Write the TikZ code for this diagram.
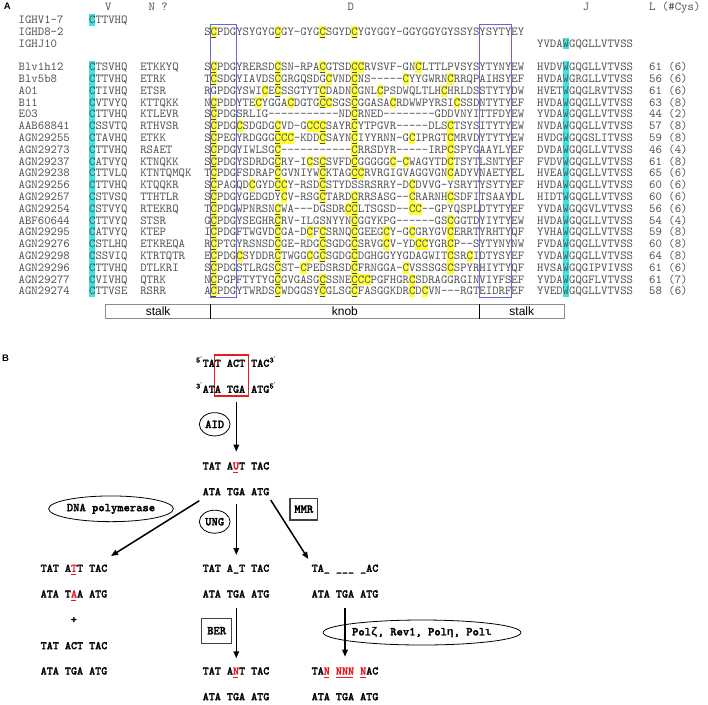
\documentclass[tikz,border=0pt]{standalone}
\usepackage{fontspec}
\setmainfont{Liberation Sans}
\newfontfamily\mon{lmmono10-regular.otf}[Ligatures=TeXOff]
\newfontfamily\monb{lmmonolt10-bold.otf}[Ligatures=TeXOff,FakeBold=1.8]
\newfontfamily\lmb{Liberation Mono}[Ligatures=TeXOff]
\newfontfamily\djv{DejaVu Sans}
\usetikzlibrary{arrows.meta,shapes.geometric}
\definecolor{seqgray}{RGB}{80,80,80}
\definecolor{cyanhl}{RGB}{60,228,228}
\definecolor{yelhl}{RGB}{255,255,51}
\definecolor{boxblue}{RGB}{100,100,232}
\definecolor{redx}{RGB}{228,28,36}
\tikzset{
  seq/.style={font={\mon\fontsize{12.19}{14}\selectfont}, text=seqgray, inner sep=0pt, anchor=base west},
  ulst/.style={line width=0.6pt, draw=black!70},
  regbox/.style={draw=boxblue, line width=1pt},
  barlbl/.style={font={\fontsize{12}{14}\selectfont}, inner sep=0pt},
  panel/.style={font={\bfseries\fontsize{9.5}{11}\selectfont}, inner sep=0pt},
  dna/.style={font={\monb\fontsize{11.54}{13}\selectfont}, inner sep=0pt, anchor=base west},
  prim/.style={font={\monb\fontsize{8}{9}\selectfont}, inner sep=0pt},
  enz/.style={ellipse, draw, line width=0.8pt, inner sep=0pt, font={\monb\fontsize{12}{13}\selectfont}},
  enzbox/.style={rectangle, draw=black!75, line width=1.2pt, inner sep=0pt, font={\monb\fontsize{12}{13}\selectfont}},
  flow/.style={line width=1.5pt, -{Triangle[length=7pt,width=5.5pt]}},
  redul/.style={draw=redx, line width=1.1pt},
}
\newcommand{\seqrow}[9]{%
  \pgfmathsetmacro\ry{19.8+11.8*#1}%
  \pgfmathsetmacro\rb{\ry+3.7}%
  \foreach \i in {#8}{\fill[yelhl] ({204.1+6.4*\i},{\ry-5.9}) rectangle ++(6.4,11.8);}
  \foreach \i in {#9}{\draw[ulst] ({204.1+6.4*\i+0.7},{\ry+5.2}) -- ++(5.0,0);}
  \node[seq] (nm#1) at (18.5,\rb) {#2};
  \node[seq] (v#1) at (88.9,\rb) {#3};
  \node[seq] (nn#1) at (140.1,\rb) {#4};
  \node[seq] (d#1) at (204.1,\rb) {#5};
  \node[seq] (j#1) at (536.9,\rb) {#6};
  \node[seq] (l#1) at (649,\rb) {#7};
}
\newcommand{\rul}[3]{\draw[redul] ({#1+6.06*#3+0.5},{#2+3}) -- ++(5.06,0);}
\newcommand{\grk}[1]{{\lmb\bfseries\fontsize{11.2}{13}\selectfont #1}}
\begin{document}
\begin{tikzpicture}[x=1pt,y=-1pt]
\useasboundingbox (0,0) rectangle (708,704);
\fill[white] (0,0) rectangle (708,704);
% ---------- panel A ----------
\node[panel] (labA) at (7.2,6.7) {A};
\node[seq] (hV) at (104.9,10.5) {V};
\node[seq] (hN) at (148.4,10.5) {N ?};
\node[seq] (hD) at (347.5,10.5) {D};
\node[seq] (hJ) at (582.7,10.5) {J};
\node[seq] (hL) at (649,10.5) {L (\#Cys)};
% cyan strips
\fill[cyanhl] (88.9,13.9) rectangle ++(6.4,11.8);
\fill[cyanhl] (88.9,61.1) rectangle (95.3,297.1);
\fill[cyanhl] (562.5,37.5) rectangle ++(6.4,11.8);
\fill[cyanhl] (562.5,61.1) rectangle (568.9,297.1);
% germline rows
\node[seq] (g0) at (18.5,23.5) {IGHV1-7};
\node[seq] (g0v) at (88.9,23.5) {CTTVHQ};
\foreach \i in {1,11,18,23}{\fill[yelhl] ({204.1+6.4*\i},25.7) rectangle ++(6.4,11.8);}
\foreach \i in {1,11,18,23}{\draw[ulst] ({204.1+6.4*\i+0.7},36.8) -- ++(5.0,0);}
\node[seq] (g1) at (18.5,35.3) {IGHD8-2};
\node[seq] (g1d) at (204.1,35.3) {SCPDGYSYGYGCGY-GYGCSGYDCYGYGGY-GGYGGYGYSSYSYSYTYEY};
\node[seq] (g2) at (18.5,47.1) {IGHJ10};
\node[seq] (g2j) at (536.9,47.1) {YVDAWGQGLLVTVSS};
% data rows
\seqrow{4}{Blv1h12}{CTSVHQ}{ETKKYQ}{SCPDGYRERSDCSN-RPACGTSDCCRVSVF-GNCLTTLPVSYSYTYNYEW}{HVDVWGQGLLVTVSS}{61 (6)}{1,11,18,23,24,33}{1,11,18,23}
\seqrow{5}{Blv5b8}{CTTVHQ}{ETRK}{TCSDGYIAVDSCGRGQSDGCVNDCNS-----CYYGWRNCRRQPAIHSYEF}{HVDAWGRGLLVTVSS}{56 (6)}{1,11,19,23,31,38}{1,11,23}
\seqrow{6}{A01}{CTIVHQ}{ETSR}{RGPDGYSWICECSSGTYTCDADNCGNLCPSDWQLTLHCHRLDSSTYTYDW}{HVETWGQGLRVTVSS}{61 (6)}{9,11,18,23,27,37}{11,18,23}
\seqrow{7}{B11}{CVTVYQ}{KTTQKK}{NCPDDYTECYGGACDGTGCCSGSCGGASACRDWWPYRSICSSDNTYTYEF}{HVDAWGQGLLVTVSS}{63 (8)}{1,8,13,18,19,23,29,39}{1,18,23}
\seqrow{8}{E03}{CTTVHQ}{KTLEVR}{SCPDGSRLIG-----------NDCRNED--------GDDVNYITTFDYEW}{YVDAWGQGLLVTVSS}{44 (2)}{1,23}{1,23}
\seqrow{9}{AAB68841}{CSSVTQ}{RTHVSR}{SCPDGCSDGDGCVD-GCCCSAYRCYTPGVR-----DLSCTSYSITYTYEW}{NVDAWGQGLLVTVSS}{57 (8)}{1,5,11,16,17,18,23,38}{1,11,18,23}
\seqrow{10}{AGN29255}{CTAVHQ}{ETKK}{SCPEGYRDGGGCCC-KDDCSAYNCIYYRNN-GCIPRGTCMRVDYTYTYEW}{HVDGWGQGSLITVSS}{59 (8)}{1,11,12,13,18,23,32,38}{1,11,18,23}
\seqrow{11}{AGN29273}{CTTVHQ}{RSAET}{SCPDGYIWLSGC-----------CRRSDYR-----IRPCSPYGAAYLYEF}{DVDAWGQGLLVTVSS}{46 (4)}{1,11,23,38}{1,11,23}
\seqrow{12}{AGN29237}{CATVYQ}{KTNQKK}{SCPDGYSDRDGCRY-ICSCSVFDCGGGGGC-CWAGYTDCTSYTLSNTYEF}{FVDVWGQGLLVTVSS}{61 (8)}{1,11,16,18,23,29,31,38}{1,11,18,23}
\seqrow{13}{AGN29238}{CTTVLQ}{KTNTQMQK}{TCPDGFSDRAPCGVNIYWCKTAGCCRVRGIGVAGGVGNCADYVNAETYEL}{HVEAWGQGLLVTVSS}{65 (6)}{1,11,18,23,24,38}{1,11,18,23}
\seqrow{14}{AGN29256}{CTTVHQ}{KTQQKR}{SCPAGQDCGYDCCY-RSDCSTYDSSRSRRY-DCDVVG-YSRYTYSYTYEF}{HVDAWGQGLLVTVSS}{60 (6)}{1,7,11,12,18,32}{1,11,18}
\seqrow{15}{AGN29257}{CSTVSQ}{TTHTLR}{SCPDGYGEDGDYCV-RSGCTARDCRRSASG--CRARNHCSDFITSAAYDL}{HIDTWGQGLLVTVSS}{60 (6)}{1,12,18,23,32,38}{1,18,23}
\seqrow{16}{AGN29254}{CSTVYQ}{RTEKRQ}{TCPDGWPNRSNCWA---DGSDRCCLTSGSD--CC--GPYQSPLDTYTYEF}{YVDAWGQGVLVTVSS}{56 (6)}{1,11,22,23,32,33}{1,11,23}
\seqrow{17}{ABF60644}{CTTVYQ}{STSR}{GCPDGYSEGHRCRV-ILGSNYYNCGGYKPG------GSCGGTDYIYTYEW}{HVDAWGQGLLVTVSS}{54 (4)}{1,11,23,38}{1,11,23}
\seqrow{18}{AGN29295}{CATVYQ}{KTEP}{ICPDGFTWGVDCGA-DCFCSRNQCGEEGCY-GCGRYGVCERRTYRHTYQF}{YVHAWGQGLLVTVSS}{59 (8)}{1,11,16,18,23,28,32,38}{1,11,18,23}
\seqrow{19}{AGN29276}{CSTLHQ}{ETKREQA}{RCPTGYRSNSDCGE-RDGCSGDGCSRVGCV-YDCCYGRCP--SYTYNYNW}{FVDAWGQGLLVTVSS}{60 (8)}{1,11,18,23,28,33,34,38}{1,11,18,23}
\seqrow{20}{AGN29298}{CSSVIQ}{KTRTQTR}{ECPDGCSYDDRCTWGGCGCSGDGCDGHGGYYGDAGWITCSRCIDTYSYEF}{YVDAWGQGLLVTVSS}{64 (8)}{1,5,11,16,18,23,38,41}{1,11,18,23}
\seqrow{21}{AGN29296}{CTTVHQ}{DTLKRI}{SCPDGSTLRGSCST-CPEDSRSDCFRNGGA-CVSSSGSCSPYRHIYTYQF}{HVSAWGQGIPVIVSS}{61 (6)}{1,11,15,23,31,38}{1,11,23}
\seqrow{22}{AGN29277}{CVIVHQ}{QTRK}{NCPGPFTYTYGCGVGASGCSSNECCCPGFHGRCSDRAGGRGINVIYFSEF}{YVDAWGQGFLVTVSS}{61 (7)}{1,11,18,23,24,25,32}{1,11,18,23}
\seqrow{23}{AGN29274}{CTTVSE}{RSRR}{ACPDGYTWRDSCWDGGSYCGLSGCFASGGKDRCDCVN---RGTEIDRFEF}{YVEDWGQGLLVTVSS}{58 (6)}{1,11,18,23,32,34}{1,11,18,23}
% region boxes
\draw[regbox] (210.5,24.5) rectangle (236.5,297.5);
\draw[regbox] (479.5,24.5) rectangle (511.5,297.5);
% stalk / knob bar
\draw[draw=black!45, line width=1pt] (105.7,304.3) rectangle (564.3,318.5);
\draw[line width=0.9pt] (210.5,304.3) -- (210.5,318.5);
\draw[line width=0.9pt] (479.5,304.3) -- (479.5,318.5);
\node[barlbl] (st1) at (158.1,311.6) {stalk};
\node[barlbl] (kn) at (344.9,311.6) {knob};
\node[barlbl] (st2) at (521.8,311.6) {stalk};
% ---------- panel B ----------
\node[panel] (labB) at (5.5,358.3) {B};
\draw[draw=redx, line width=1.1pt] (214.3,355) rectangle (248.3,396);
\node[dna] (s1a) at (202.5,366.8) {TAT ACT TAC};
\node[dna] (s1b) at (202.5,392.8) {ATA TGA ATG};
\node[prim, anchor=base east] (p1) at (202.3,362.6) {5{\djv ′}};
\node[prim, anchor=base west] (p2) at (269.3,362.6) {3{\djv ′}};
\node[prim, anchor=base east] (p3) at (202.3,388.6) {3{\djv ′}};
\node[prim, anchor=base west] (p4) at (269.3,388.6) {5{\djv ′}};
\node[enz, minimum width=30.7pt, minimum height=23.3pt] (aid) at (214.7,424.3) {AID};
\node[dna] (s2a) at (202.5,469.5) {TAT A\textcolor{redx}{U}T TAC};
\rul{202.5}{469.5}{5}
\node[dna] (s2b) at (202.5,495.2) {ATA TGA ATG};
\node[enz, minimum width=94.3pt, minimum height=25.7pt] (dnap) at (111,508.8) {DNA polymerase};
\node[enz, minimum width=30.7pt, minimum height=23pt] (ung) at (214.7,521.7) {UNG};
\node[enzbox, minimum width=27.7pt, minimum height=21.7pt] (mmr) at (303.8,509.2) {MMR};
% left branch
\node[dna] (l1) at (40.5,571.8) {TAT A\textcolor{redx}{T}T TAC};
\rul{40.5}{571.8}{5}
\node[dna] (l2) at (40.5,597.5) {ATA T\textcolor{redx}{A}A ATG};
\rul{40.5}{597.5}{5}
\node[dna, anchor=center] (plus) at (73.8,620) {+};
\node[dna] (l3) at (40.5,649.2) {TAT ACT TAC};
\node[dna] (l4) at (40.5,674.5) {ATA TGA ATG};
% middle branch
\node[dna] (m1) at (202.5,571.8) {TAT A\_T TAC};
\node[dna] (m2) at (202.5,597.5) {ATA TGA ATG};
\node[enzbox, minimum width=30pt, minimum height=25pt] (ber) at (216.7,630.8) {BER};
\node[dna] (m3) at (202.5,674.5) {TAT A\textcolor{redx}{N}T TAC};
\rul{202.5}{674.5}{5}
\node[dna] (m4) at (202.5,700.2) {ATA TGA ATG};
% right branch
\node[dna] (r1) at (311.5,571.8) {TA\_ \_\_\_ \_AC};
\node[dna] (r2) at (311.5,597.5) {ATA TGA ATG};
\node[enz, minimum width=142.7pt, minimum height=25pt] (pol) at (422,632.5) {Pol\grk{ζ}, Rev1, Pol\grk{η}, Pol\grk{ι}};
\node[dna] (r3) at (311.5,674.5) {TA\textcolor{redx}{N} \textcolor{redx}{NNN} \textcolor{redx}{N}AC};
\rul{311.5}{674.5}{2}
\rul{311.5}{674.5}{8}
\draw[redul] ({311.5+6.06*4+0.5},677.5) -- ({311.5+6.06*7-0.5},677.5);
\node[dna] (r4) at (311.5,700.2) {ATA TGA ATG};
% arrows
\coordinate (a1s) at (236.3,401.7); \coordinate (a1e) at (236.3,451.7);
\coordinate (a2s) at (199.3,500.7); \coordinate (a2e) at (111,556);
\coordinate (a3s) at (236.3,504.3); \coordinate (a3e) at (236.3,555);
\coordinate (a4s) at (270.7,500);   \coordinate (a4e) at (308.3,559);
\coordinate (a5s) at (236.3,608.3); \coordinate (a5e) at (236.3,658.3);
\coordinate (a6s) at (345,608.3);   \coordinate (a6e) at (345,656.7);
\draw[flow] (a1s) -- (a1e);
\draw[flow] (a2s) -- (a2e);
\draw[flow] (a3s) -- (a3e);
\draw[flow] (a4s) -- (a4e);
\draw[flow] (a5s) -- (a5e);
\draw[flow] (a6s) -- (a6e);
\end{tikzpicture}
\end{document}
